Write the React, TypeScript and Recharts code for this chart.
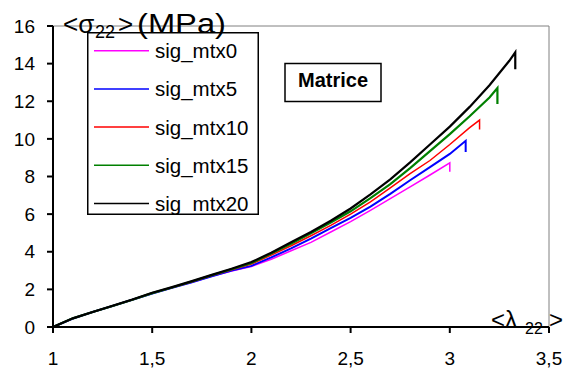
import React from "react"
import { LineChart, Line, XAxis, YAxis, ReferenceLine, Legend } from "recharts"

// shared λ22 grid, then each curve's own tail (peak + final drop)
const lambdaGrid = [1, 1.1, 1.2, 1.3, 1.4, 1.5, 1.6, 1.7, 1.8, 1.9, 2.0, 2.1, 2.2, 2.3, 2.4, 2.5, 2.6, 2.7, 2.8, 2.9]

const sigMtx0 = [0, 0.45, 0.8, 1.12, 1.45, 1.78, 2.08, 2.38, 2.7, 2.98, 3.22, 3.6, 4.05, 4.5, 5.05, 5.6, 6.2, 6.82, 7.45, 8.08]
const sigMtx5 = [0, 0.45, 0.8, 1.12, 1.45, 1.78, 2.08, 2.38, 2.7, 3.0, 3.25, 3.7, 4.18, 4.7, 5.25, 5.8, 6.4, 7.08, 7.8, 8.5]
const sigMtx10 = [0, 0.46, 0.8, 1.12, 1.45, 1.8, 2.1, 2.4, 2.73, 3.04, 3.35, 3.82, 4.32, 4.85, 5.4, 6.0, 6.65, 7.4, 8.15, 8.85]
const sigMtx15 = [0, 0.46, 0.8, 1.12, 1.45, 1.8, 2.1, 2.42, 2.75, 3.07, 3.4, 3.9, 4.42, 4.98, 5.55, 6.15, 6.85, 7.6, 8.45, 9.35]
const sigMtx20 = [0, 0.46, 0.8, 1.13, 1.46, 1.82, 2.12, 2.44, 2.77, 3.1, 3.45, 3.95, 4.5, 5.05, 5.65, 6.3, 7.05, 7.85, 8.75, 9.7]

const tailLambda0 = [3.0, 3.0]
const tailSig0 = [8.72, 8.25]
const tailLambda5 = [3.0, 3.08, 3.08]
const tailSig5 = [9.2, 9.9, 9.3]
const tailLambda10 = [3.0, 3.1, 3.15, 3.15]
const tailSig10 = [9.7, 10.6, 11.0, 10.5]
const tailLambda15 = [3.0, 3.1, 3.2, 3.24, 3.24]
const tailSig15 = [10.25, 11.2, 12.2, 12.7, 11.85]
const tailLambda20 = [3.0, 3.1, 3.2, 3.3, 3.33, 3.33]
const tailSig20 = [10.65, 11.7, 12.85, 14.15, 14.6, 13.7]

const xTicks = [1, 1.5, 2, 2.5, 3, 3.5]
const yTicks = [0, 2, 4, 6, 8, 10, 12, 14, 16]

const FONT = "'Liberation Sans', Arial, sans-serif"

const toPoints = (ys: number[], tailX: number[], tailY: number[]) =>
  lambdaGrid
    .map((x, i) => ({ x, y: ys[i] }))
    .concat(tailX.map((x, i) => ({ x, y: tailY[i] })))

const series = [
  { name: "sig_mtx0", color: "#ff00ff", width: 1.5, data: toPoints(sigMtx0, tailLambda0, tailSig0) },
  { name: "sig_mtx5", color: "#0000ff", width: 2, data: toPoints(sigMtx5, tailLambda5, tailSig5) },
  { name: "sig_mtx10", color: "#ff0000", width: 1.5, data: toPoints(sigMtx10, tailLambda10, tailSig10) },
  { name: "sig_mtx15", color: "#008000", width: 2.2, data: toPoints(sigMtx15, tailLambda15, tailSig15) },
  { name: "sig_mtx20", color: "#000000", width: 2.2, data: toPoints(sigMtx20, tailLambda20, tailSig20) },
]

const comma = (v: number) => String(v).replace(".", ",")

// legend keeps the series order (recharts sorts the payload by name otherwise)
function LegendBox() {
  return (
    <svg width={172} height={183} style={{ display: "block" }}>
      <rect x={0.75} y={0.75} width={170.5} height={181.5} fill="#fff" stroke="#000" strokeWidth={1.5} />
      {series.map((s, i) => {
        const cy = 18.7 + i * 38.2
        return (
          <g key={s.name}>
            <line x1={7} x2={62} y1={cy} y2={cy} stroke={s.color} strokeWidth={1.5} />
            <text x={68} y={cy + 7.5} fontSize={20.5} fontFamily={FONT} fill="#000">
              {s.name}
            </text>
          </g>
        )
      })}
    </svg>
  )
}

export default function App() {
  return (
    <div style={{ position: "absolute", left: 0, top: 0, width: 571, height: 374, background: "#fff" }}>
      <LineChart width={571} height={374} margin={{ top: 26, right: 22, left: 0, bottom: 0 }}>
        <XAxis
          dataKey="x"
          type="number"
          domain={[1, 3.5]}
          ticks={xTicks}
          interval={0}
          height={47}
          tickSize={6}
          tickMargin={19}
          tickFormatter={comma}
          axisLine={{ stroke: "#000", strokeWidth: 2 }}
          tickLine={{ stroke: "#000", strokeWidth: 2 }}
          tick={{ fill: "#000", fontSize: 19, fontFamily: FONT }}
        />
        <YAxis
          type="number"
          domain={[0, 16]}
          ticks={yTicks}
          interval={0}
          width={53}
          tickSize={6}
          tickMargin={12}
          axisLine={{ stroke: "#000", strokeWidth: 2 }}
          tickLine={{ stroke: "#000", strokeWidth: 2 }}
          tick={{ fill: "#000", fontSize: 19, fontFamily: FONT }}
        />
        <ReferenceLine y={16} stroke="#808080" strokeWidth={1} />
        <ReferenceLine x={3.5} stroke="#808080" strokeWidth={1} />
        {series.map((s) => (
          <Line
            key={s.name}
            name={s.name}
            data={s.data}
            dataKey="y"
            type="linear"
            stroke={s.color}
            strokeWidth={s.width}
            dot={false}
            isAnimationActive={false}
          />
        ))}
        <Legend
          layout="vertical"
          align="center"
          verticalAlign="middle"
          wrapperStyle={{ left: 87, top: 32, width: 172, height: 183 }}
          content={<LegendBox />}
        />
      </LineChart>
      <svg
        width={571}
        height={374}
        style={{ position: "absolute", left: 0, top: 0, pointerEvents: "none" }}
        fontFamily={FONT}
      >
        <text x={63} y={33} fontSize={26} fill="#000">&lt;σ</text>
        <text x={95} y={38} fontSize={18} fill="#000">22</text>
        <text x={118} y={33} fontSize={26} fill="#000">&gt;</text>
        <text x={137} y={33} fontSize={27} fill="#000" textLength={89} lengthAdjust="spacingAndGlyphs">(MPa)</text>

        <rect x={285} y={63.5} width={96} height={38} fill="#fff" stroke="#000" strokeWidth={1.5} />
        <text x={333} y={87} fontSize={20} fontWeight="bold" textAnchor="middle" fill="#000">Matrice</text>

        <text x={491} y={328} fontSize={24} fill="#000">&lt;λ</text>
        <text x={525} y={334} fontSize={16} fill="#000">22</text>
        <text x={549} y={328} fontSize={24} fill="#000">&gt;</text>
      </svg>
    </div>
  )
}
